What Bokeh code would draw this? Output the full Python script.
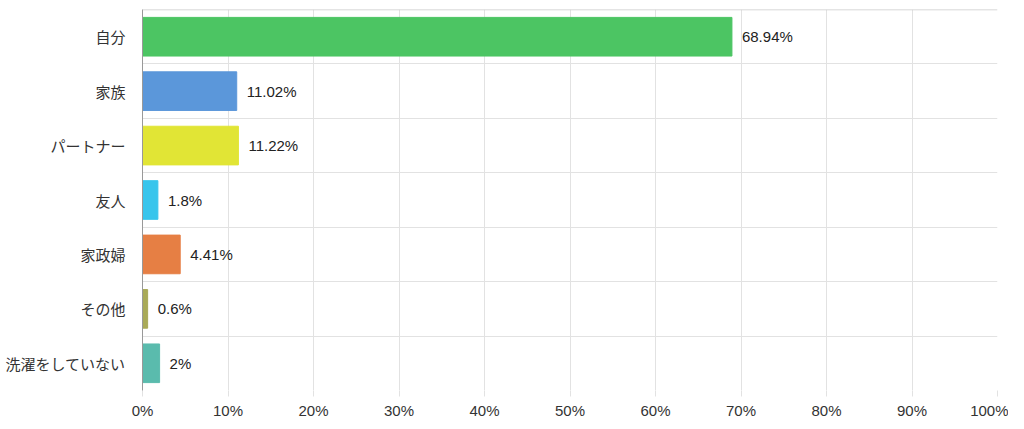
from bokeh.core.properties import value
from bokeh.embed import file_html
from bokeh.models import ColumnDataSource, FixedTicker, Range1d, Span
from bokeh.plotting import figure
from bokeh.resources import INLINE

# Chart data
categories = ["自分", "家族", "パートナー", "友人", "家政婦", "その他", "洗濯をしていない"]
percentages = [68.94, 11.02, 11.22, 1.8, 4.41, 0.6, 2]
value_labels = ["68.94%", "11.02%", "11.22%", "1.8%", "4.41%", "0.6%", "2%"]
bar_colors = ["#4cc563", "#5b97da", "#e1e535", "#38c5ec", "#e67f44", "#a9aa58", "#5abbad"]
x_ticks = [0, 10, 20, 30, 40, 50, 60, 70, 80, 90, 100]

num_rows = len(categories)
# first category on top
row_centers = [num_rows - i - 0.5 for i in range(num_rows)]

source = ColumnDataSource(data={
    "y": row_centers,
    "right": percentages,
    "color": bar_colors,
    "label": value_labels,
})

p = figure(
    width=1008,
    height=421,
    output_backend="svg",
    toolbar_location=None,
    x_range=Range1d(0, 100),
    y_range=Range1d(0, num_rows),
    min_border_left=142,
    min_border_right=11,
    min_border_top=9,
    min_border_bottom=24,
)
p.outline_line_color = None
p.background_fill_color = "white"

# Bars
p.hbar(y="y", left=0, right="right", height=0.71, color="color", source=source)

# Value labels
p.text(
    x="right", y="y", text="label", source=source,
    x_offset=10, text_baseline="middle", text_align="left",
    text_font=value("Liberation Sans"), text_font_size="15px", text_color="#222222",
)

# Grid
p.xgrid.ticker = FixedTicker(ticks=x_ticks)
p.xgrid.grid_line_color = "#e2e2e2"
p.ygrid.ticker = FixedTicker(ticks=list(range(num_rows + 1)))
p.ygrid.grid_line_color = "#e2e2e2"
p.add_layout(Span(location=num_rows, dimension="width", line_color="#c9c9c9", line_width=1.5))

# X axis
p.xaxis.ticker = FixedTicker(ticks=x_ticks)
p.xaxis.major_label_overrides = {t: f"{t}%" for t in x_ticks}
p.xaxis.axis_line_color = None
p.xaxis.major_tick_line_color = "#e2e2e2"
p.xaxis.major_tick_out = 6
p.xaxis.major_tick_in = 0
p.xaxis.minor_tick_line_color = None
p.xaxis.major_label_standoff = 5
p.xaxis.major_label_text_font = "Liberation Sans"
p.xaxis.major_label_text_font_size = "15px"
p.xaxis.major_label_text_color = "#333333"

# Y axis
p.yaxis.ticker = FixedTicker(ticks=row_centers)
p.yaxis.major_label_overrides = {c: name for c, name in zip(row_centers, categories)}
p.yaxis.axis_line_color = "#999999"
p.yaxis.major_tick_line_color = None
p.yaxis.minor_tick_line_color = None
p.yaxis.major_label_standoff = 11
p.yaxis.major_label_text_font = "Noto Sans CJK JP"
p.yaxis.major_label_text_font_size = "15px"
p.yaxis.major_label_text_color = "#333333"

open("out.html", "w").write(file_html(p, INLINE))
